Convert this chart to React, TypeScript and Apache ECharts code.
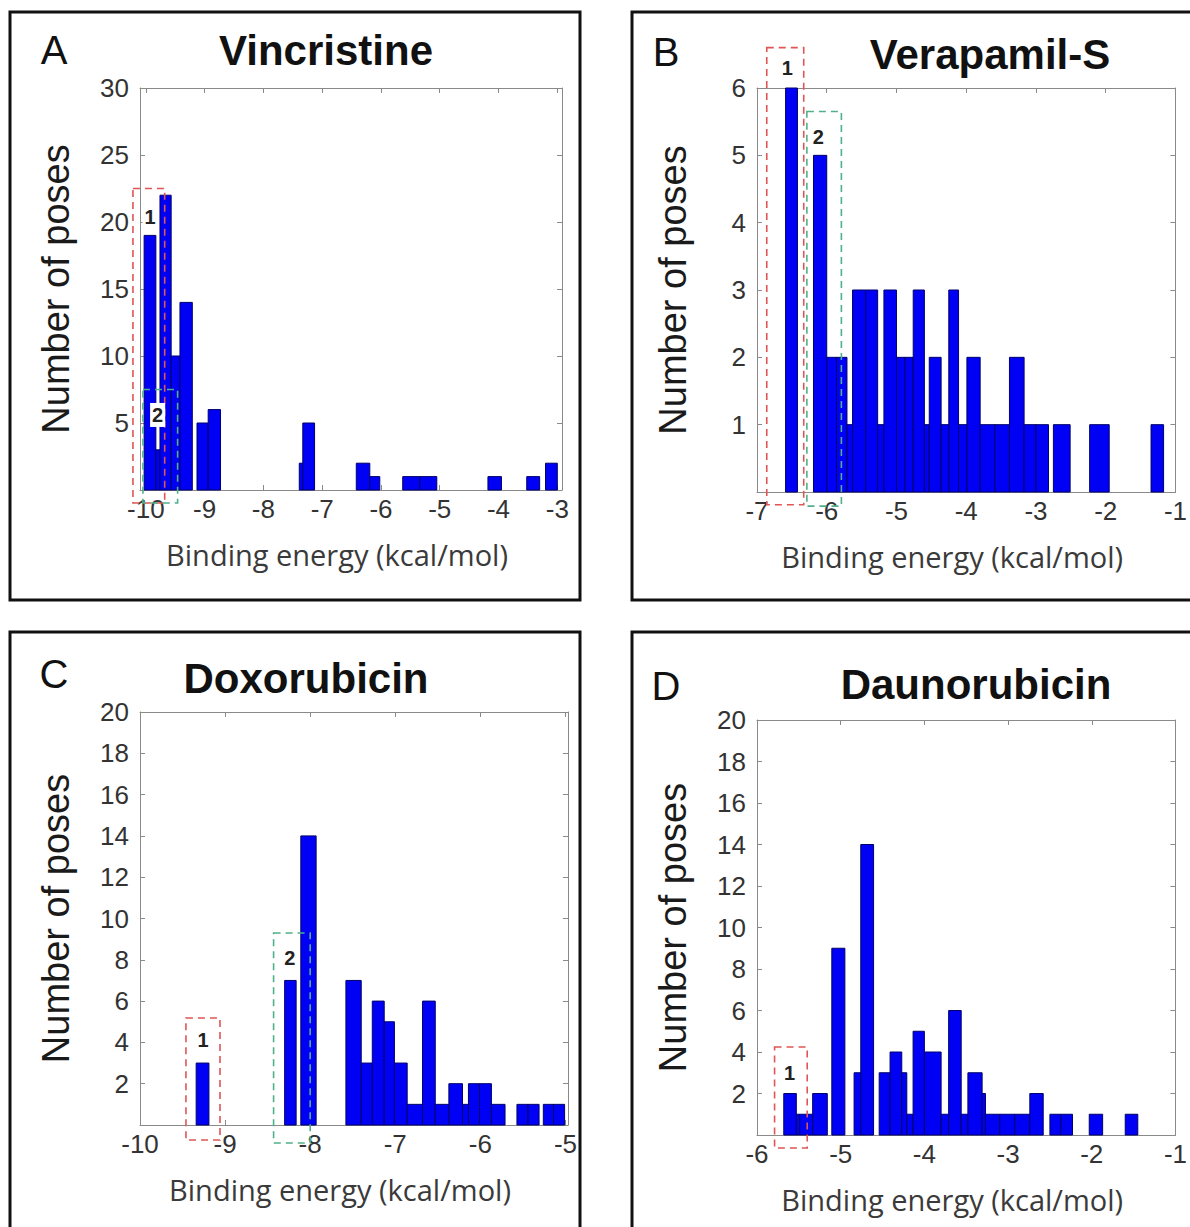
import React, { useEffect, useRef } from "react";
import * as echarts from "echarts";

// ---------- Panel A: Vincristine (bin start, bin end, number of poses) ----------
const vinStart = [-10.03, -9.83, -9.76, -9.57, -9.42, -9.13, -8.94, -7.39, -7.33, -6.42, -6.19, -5.63, -5.34, -4.18, -3.52, -3.2];
const vinEnd = [-9.83, -9.76, -9.57, -9.42, -9.21, -8.94, -8.73, -7.33, -7.13, -6.19, -6.02, -5.34, -5.05, -3.95, -3.3, -3.0];
const vinCount = [19, 3, 22, 10, 14, 5, 6, 2, 5, 2, 1, 1, 1, 1, 1, 2];

// ---------- Panel B: Verapamil-S ----------
const verStart = [-6.59, -6.19, -6.0, -5.86, -5.71, -5.63, -5.44, -5.27, -5.18, -5.0, -4.88, -4.76, -4.6, -4.53, -4.36, -4.25, -4.11, -3.99, -3.8, -3.59, -3.38, -3.17, -3.0, -2.75, -2.23, -1.35];
const verEnd = [-6.42, -6.0, -5.86, -5.71, -5.63, -5.44, -5.27, -5.18, -5.0, -4.88, -4.76, -4.6, -4.53, -4.36, -4.25, -4.11, -3.99, -3.8, -3.59, -3.38, -3.17, -3.0, -2.82, -2.51, -1.95, -1.17];
const verCount = [6, 5, 2, 2, 1, 3, 3, 1, 3, 2, 2, 3, 1, 2, 1, 3, 1, 2, 1, 1, 2, 1, 1, 1, 1, 1];

// ---------- Panel C: Doxorubicin ----------
const doxStart = [-9.34, -8.3, -8.11, -7.58, -7.4, -7.27, -7.13, -7.01, -6.86, -6.68, -6.53, -6.37, -6.21, -6.14, -6.01, -5.87, -5.57, -5.44, -5.26, -5.14];
const doxEnd = [-9.19, -8.165, -7.93, -7.4, -7.27, -7.13, -7.01, -6.86, -6.68, -6.53, -6.37, -6.21, -6.14, -6.01, -5.87, -5.71, -5.44, -5.31, -5.14, -5.01];
const doxCount = [3, 7, 14, 7, 3, 6, 5, 3, 1, 6, 1, 2, 1, 2, 2, 1, 1, 1, 1, 1];

// ---------- Panel D: Daunorubicin ----------
const dauStart = [-5.68, -5.53, -5.49, -5.335, -5.106, -4.84, -4.76, -4.54, -4.41, -4.27, -4.21, -4.135, -4.0, -3.8, -3.71, -3.56, -3.48, -3.31, -3.27, -3.1, -2.92, -2.74, -2.5, -2.37, -2.03, -1.6];
const dauEnd = [-5.53, -5.49, -5.335, -5.16, -4.95, -4.76, -4.607, -4.41, -4.27, -4.21, -4.135, -4.0, -3.8, -3.71, -3.56, -3.48, -3.31, -3.27, -3.1, -2.92, -2.74, -2.58, -2.37, -2.23, -1.87, -1.45];
const dauCount = [2, 1, 1, 2, 9, 3, 14, 3, 4, 3, 1, 5, 4, 1, 6, 1, 3, 2, 1, 1, 1, 2, 1, 1, 1, 1];

// ---------- Tick labels ----------
const xTicksA = [-10, -9, -8, -7, -6, -5, -4, -3];
const xTicksB = [-7, -6, -5, -4, -3, -2, -1];
const xTicksC = [-10, -9, -8, -7, -6, -5];
const xTicksD = [-6, -5, -4, -3, -2, -1];

const titles = ["Vincristine", "Verapamil-S", "Doxorubicin", "Daunorubicin"];
const letters = ["A", "B", "C", "D"];

// highlighted pose clusters: [panel, label, xFrom, xTo, yTop, yBottom, labelX, labelY, colour]
const clusterBoxes: [number, string, number, number, number, number, number, number, string][] = [
  [0, "1", -10.22, -9.68, 22.5, -0.97, -9.93, 20.4, "#e05555"],
  [0, "2", -10.05, -9.46, 7.5, -0.97, -9.8, 5.6, "#4fb08a"],
  [1, "1", -6.86, -6.33, 6.6, -0.19, -6.565, 6.3, "#e05555"],
  [1, "2", -6.285, -5.79, 5.65, -0.21, -6.12, 5.27, "#4fb08a"],
  [2, "1", -9.46, -9.06, 5.18, -0.73, -9.26, 4.1, "#e05555"],
  [2, "2", -8.43, -8.0, 9.3, -0.87, -8.24, 8.1, "#4fb08a"],
  [3, "1", -5.79, -5.4, 4.24, -0.63, -5.61, 3.0, "#e05555"],
];

const zip = (s: number[], e: number[], c: number[]) => s.map((v, i) => [v, e[i], c[i]]);

const panels = [
  { data: zip(vinStart, vinEnd, vinCount), xMin: -10.1, xMax: -2.92, xTicks: xTicksA, yMax: 30, yStep: 5, grid: { left: 140, top: 88, width: 422, height: 402 } },
  { data: zip(verStart, verEnd, verCount), xMin: -7, xMax: -1, xTicks: xTicksB, yMax: 6, yStep: 1, grid: { left: 757, top: 88, width: 426, height: 404 } },
  { data: zip(doxStart, doxEnd, doxCount), xMin: -10, xMax: -4.97, xTicks: xTicksC, yMax: 20, yStep: 2, grid: { left: 140, top: 712, width: 428, height: 413 } },
  { data: zip(dauStart, dauEnd, dauCount), xMin: -6, xMax: -1, xTicks: xTicksD, yMax: 20, yStep: 2, grid: { left: 757, top: 720, width: 425, height: 415 } },
];

const frames = [
  { x: 10, y: 12, w: 570, h: 588 },
  { x: 632, y: 12, w: 570, h: 588 },
  { x: 10, y: 632, w: 570, h: 610 },
  { x: 632, y: 632, w: 570, h: 610 },
];
const letterPos = [[54, 50], [666, 52], [54, 674], [666, 686]];
const titlePos = [[326, 50], [990, 54], [306, 678], [976, 684]];

const AXIS_COLOR = "#8a8a8a";
const SANS = "Liberation Sans, Arial, sans-serif";

export default function App() {
  const ref = useRef<HTMLDivElement>(null);

  useEffect(() => {
    if (!ref.current) return;
    const chart = echarts.init(ref.current, undefined, { renderer: "svg" });

    const grids: any[] = [];
    const xAxes: any[] = [];
    const yAxes: any[] = [];
    const series: any[] = [];

    panels.forEach((p, i) => {
      grids.push({ ...p.grid, containLabel: false });
      const tickCommon = { show: true, inside: true, length: 5, lineStyle: { color: AXIS_COLOR } };
      xAxes.push({
        type: "value", gridIndex: i, min: p.xMin, max: p.xMax, position: "bottom",
        axisLine: { show: true, onZero: false, lineStyle: { color: AXIS_COLOR, width: 1 } },
        axisTick: { ...tickCommon, customValues: p.xTicks },
        axisLabel: { customValues: p.xTicks, fontSize: 26, color: "#333", fontFamily: SANS, margin: 6, formatter: (v: number) => String(v) },
        splitLine: { show: false },
        name: "Binding energy (kcal/mol)", nameLocation: "middle", nameGap: 50,
        nameTextStyle: { fontSize: 29, color: "#3a3a3a", fontFamily: "Open Sans, sans-serif", padding: [0, 28, 0, 0] },
      });
      xAxes.push({
        type: "value", gridIndex: i, min: p.xMin, max: p.xMax, position: "top",
        axisLine: { show: true, onZero: false, lineStyle: { color: AXIS_COLOR, width: 1 } },
        axisTick: { ...tickCommon, customValues: p.xTicks },
        axisLabel: { show: false }, splitLine: { show: false },
      });
      yAxes.push({
        type: "value", gridIndex: i, min: 0, max: p.yMax, interval: p.yStep, position: "left",
        axisLine: { show: true, onZero: false, lineStyle: { color: AXIS_COLOR, width: 1 } },
        axisTick: tickCommon,
        axisLabel: { fontSize: 26, color: "#333", fontFamily: SANS, margin: 11, formatter: (v: number) => (v === 0 ? "" : String(v)) },
        splitLine: { show: false },
        name: "Number of poses", nameLocation: "middle", nameGap: 65,
        nameTextStyle: { fontSize: 38, color: "#1a1a1a", fontFamily: SANS },
      });
      yAxes.push({
        type: "value", gridIndex: i, min: 0, max: p.yMax, interval: p.yStep, position: "right",
        axisLine: { show: true, onZero: false, lineStyle: { color: AXIS_COLOR, width: 1 } },
        axisTick: tickCommon, axisLabel: { show: false }, splitLine: { show: false },
      });
      series.push({
        type: "custom",
        xAxisIndex: i * 2,
        yAxisIndex: i * 2,
        encode: { x: [0, 1], y: 2 },
        data: p.data,
        renderItem: (_params: any, api: any) => {
          const a = api.coord([api.value(0), 0]);
          const b = api.coord([api.value(1), api.value(2)]);
          return {
            type: "rect",
            shape: { x: a[0], y: b[1], width: b[0] - a[0], height: a[1] - b[1] },
            style: { fill: "#0000f5", stroke: "#00006a", lineWidth: 1 },
          };
        },
      });
    });

    chart.setOption({
      animation: false,
      backgroundColor: "#ffffff",
      grid: grids,
      xAxis: xAxes,
      yAxis: yAxes,
      series,
    });

    const graphics: any[] = [];
    frames.forEach((f) => {
      graphics.push({ type: "rect", shape: { x: f.x, y: f.y, width: f.w, height: f.h }, style: { fill: "none", stroke: "#111", lineWidth: 3 }, z: 50 });
    });
    letters.forEach((l, i) => {
      graphics.push({ type: "text", x: letterPos[i][0], y: letterPos[i][1], style: { text: l, fontSize: 40, fontFamily: SANS, fill: "#111", textAlign: "center", textVerticalAlign: "middle" }, z: 50 });
    });
    titles.forEach((t, i) => {
      graphics.push({ type: "text", x: titlePos[i][0], y: titlePos[i][1], style: { text: t, fontSize: 42, fontWeight: "bold", fontFamily: SANS, fill: "#111", textAlign: "center", textVerticalAlign: "middle" }, z: 50 });
    });
    clusterBoxes.forEach(([pi, label, x0, x1, yTop, yBot, lx, ly, col]) => {
      const tl = chart.convertToPixel({ gridIndex: pi }, [x0, yTop]) as number[];
      const br = chart.convertToPixel({ gridIndex: pi }, [x1, yBot]) as number[];
      const lp = chart.convertToPixel({ gridIndex: pi }, [lx, ly]) as number[];
      graphics.push({
        type: "rect",
        shape: { x: tl[0], y: tl[1], width: br[0] - tl[0], height: br[1] - tl[1] },
        style: { fill: "none", stroke: col, lineWidth: 1.6, lineDash: [7, 5] },
        z: 60,
      });
      graphics.push({
        type: "text", x: lp[0], y: lp[1],
        style: { text: label, fontSize: 20, fontWeight: "bold", fontFamily: SANS, fill: "#222", textAlign: "center", textVerticalAlign: "middle", backgroundColor: "#ffffff", padding: [2, 2] },
        z: 61,
      });
    });
    chart.setOption({ graphic: graphics });

    return () => chart.dispose();
  }, []);

  return <div ref={ref} style={{ position: "absolute", left: 0, top: 0, width: 1190, height: 1227 }} />;
}
